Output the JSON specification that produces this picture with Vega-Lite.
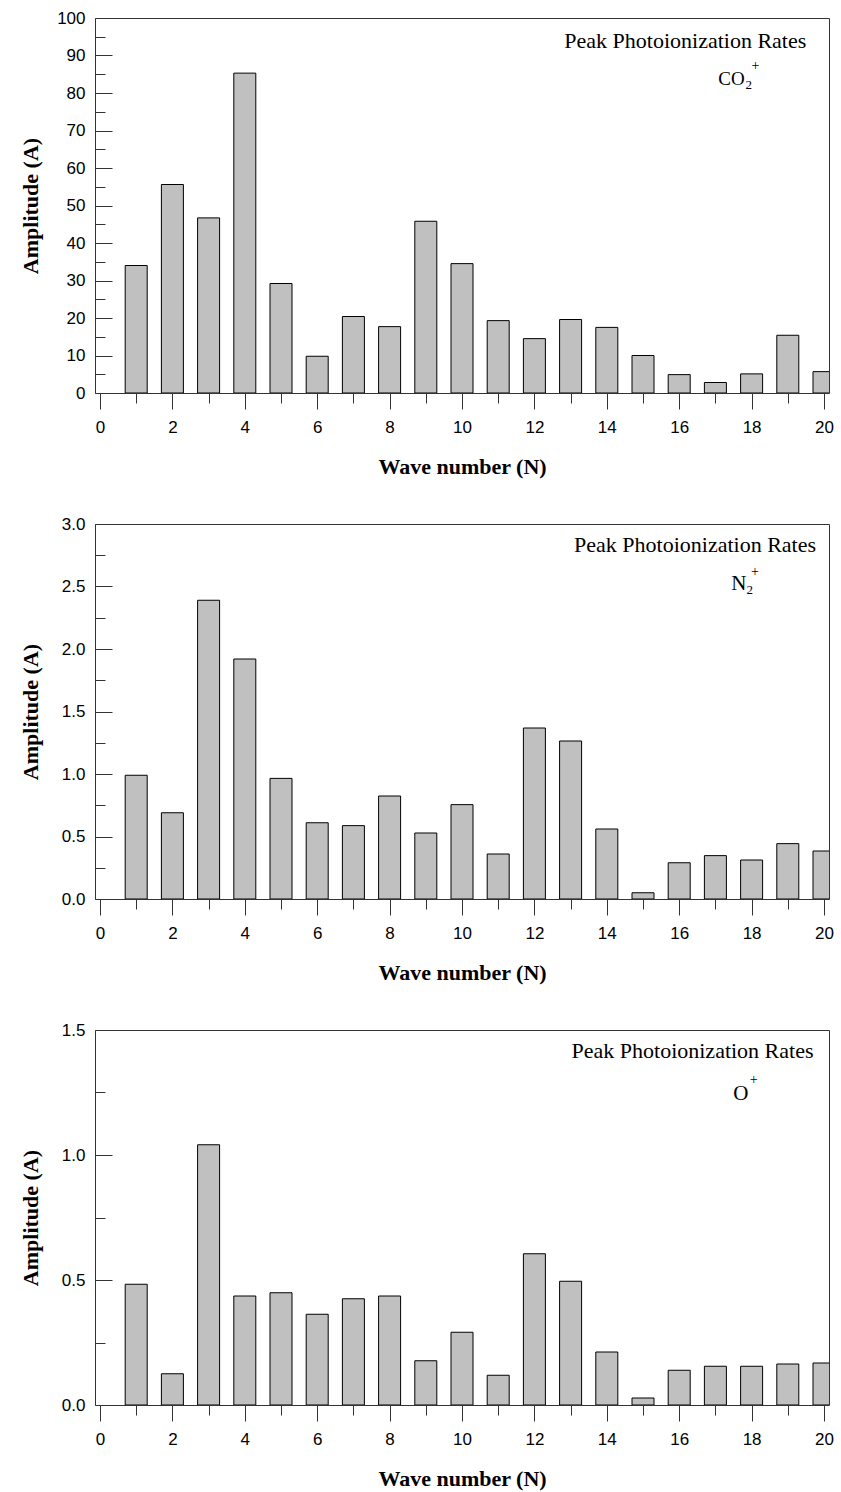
{
  "$schema": "https://vega.github.io/schema/vega-lite/v6.json",
  "background": "white",
  "padding": {"left": 18, "top": 8, "right": 5, "bottom": 5},
  "bounds": "flush",
  "spacing": 131,
  "config": {
    "view": {"stroke": "#333", "strokeWidth": 1},
    "axis": {
      "grid": false,
      "domain": false,
      "tickColor": "#333",
      "tickWidth": 1,
      "labelFont": "Liberation Sans",
      "labelFontSize": 17,
      "labelColor": "#000",
      "labelFlush": false,
      "labelOverlap": false,
      "titleFont": "Liberation Serif",
      "titleFontSize": 22,
      "titleFontWeight": "bold",
      "titleColor": "#000"
    },
    "text": {"font": "Liberation Serif", "color": "#000"}
  },
  "datasets": {
    "co2": [
      {"N": 1, "A": 34.0}, {"N": 2, "A": 55.6}, {"N": 3, "A": 46.7}, {"N": 4, "A": 85.3},
      {"N": 5, "A": 29.2}, {"N": 6, "A": 9.8}, {"N": 7, "A": 20.4}, {"N": 8, "A": 17.7},
      {"N": 9, "A": 45.8}, {"N": 10, "A": 34.5}, {"N": 11, "A": 19.3}, {"N": 12, "A": 14.5},
      {"N": 13, "A": 19.6}, {"N": 14, "A": 17.5}, {"N": 15, "A": 10.0}, {"N": 16, "A": 4.9},
      {"N": 17, "A": 2.8}, {"N": 18, "A": 5.1}, {"N": 19, "A": 15.4}, {"N": 20, "A": 5.7}
    ],
    "n2": [
      {"N": 1, "A": 0.99}, {"N": 2, "A": 0.69}, {"N": 3, "A": 2.39}, {"N": 4, "A": 1.92},
      {"N": 5, "A": 0.965}, {"N": 6, "A": 0.61}, {"N": 7, "A": 0.587}, {"N": 8, "A": 0.824},
      {"N": 9, "A": 0.528}, {"N": 10, "A": 0.755}, {"N": 11, "A": 0.36}, {"N": 12, "A": 1.368},
      {"N": 13, "A": 1.264}, {"N": 14, "A": 0.56}, {"N": 15, "A": 0.05}, {"N": 16, "A": 0.29},
      {"N": 17, "A": 0.347}, {"N": 18, "A": 0.312}, {"N": 19, "A": 0.443}, {"N": 20, "A": 0.384}
    ],
    "o": [
      {"N": 1, "A": 0.483}, {"N": 2, "A": 0.125}, {"N": 3, "A": 1.041}, {"N": 4, "A": 0.436},
      {"N": 5, "A": 0.449}, {"N": 6, "A": 0.363}, {"N": 7, "A": 0.425}, {"N": 8, "A": 0.436},
      {"N": 9, "A": 0.177}, {"N": 10, "A": 0.291}, {"N": 11, "A": 0.119}, {"N": 12, "A": 0.605},
      {"N": 13, "A": 0.495}, {"N": 14, "A": 0.212}, {"N": 15, "A": 0.028}, {"N": 16, "A": 0.139},
      {"N": 17, "A": 0.155}, {"N": 18, "A": 0.155}, {"N": 19, "A": 0.164}, {"N": 20, "A": 0.168}
    ],
    "co2_text": [
      {"role": "title", "x": 19.51, "y": 92.0, "label": "Peak Photoionization Rates"},
      {"role": "main", "x": 17.08, "y": 82.05, "label": "CO"},
      {"role": "sub", "x": 17.83, "y": 81.0, "label": "2"},
      {"role": "sup", "x": 18.0, "y": 87.2, "label": "+"}
    ],
    "n2_text": [
      {"role": "title", "x": 19.78, "y": 2.774, "label": "Peak Photoionization Rates"},
      {"role": "main", "x": 17.44, "y": 2.475, "label": "N"},
      {"role": "sub", "x": 17.86, "y": 2.44, "label": "2"},
      {"role": "sup", "x": 17.98, "y": 2.62, "label": "+"}
    ],
    "o_text": [
      {"role": "title", "x": 19.71, "y": 1.389, "label": "Peak Photoionization Rates"},
      {"role": "main", "x": 17.49, "y": 1.22, "label": "O"},
      {"role": "sup", "x": 17.95, "y": 1.3, "label": "+"}
    ]
  },
  "vconcat": [
    {
      "width": 734,
      "height": 375,
      "resolve": {"axis": {"x": "independent", "y": "independent"}},
      "layer": [
        {
          "data": {"name": "co2"},
          "mark": {"type": "bar", "size": 22, "fill": "#c0c0c0", "stroke": "#000", "strokeWidth": 1, "clip": true},
          "encoding": {
            "x": {"field": "N", "type": "quantitative", "scale": {"domain": [0, 20], "nice": false},
              "axis": {"orient": "bottom", "values": [0, 2, 4, 6, 8, 10, 12, 14, 16, 18, 20], "tickSize": 16, "labelPadding": 10,
                "title": "Wave number (N)", "titleY": 80, "titleBaseline": "alphabetic"}},
            "y": {"field": "A", "type": "quantitative", "scale": {"domain": [0, 100], "nice": false},
              "axis": {"orient": "left", "values": [0, 10, 20, 30, 40, 50, 60, 70, 80, 90, 100], "tickSize": -17, "labelPadding": 27,
                "title": "Amplitude (A)", "titleX": -53, "titleY": 187.5}}
          }
        },
        {
          "data": {"name": "co2_text"},
          "transform": [{"filter": "datum.role === 'title'"}],
          "mark": {"type": "text", "align": "right", "baseline": "alphabetic", "fontSize": 22},
          "encoding": {
            "x": {"field": "x", "type": "quantitative", "scale": {"domain": [0, 20], "nice": false},
              "axis": {"orient": "bottom", "values": [1, 3, 5, 7, 9, 11, 13, 15, 17, 19], "tickSize": 10, "labels": false, "title": null}},
            "y": {"field": "y", "type": "quantitative", "scale": {"domain": [0, 100], "nice": false},
              "axis": {"orient": "left", "values": [5, 15, 25, 35, 45, 55, 65, 75, 85, 95], "tickSize": -10, "labels": false, "title": null}},
            "text": {"field": "label"}
          }
        },
        {
          "data": {"name": "co2_text"},
          "transform": [{"filter": "datum.role === 'main'"}],
          "mark": {"type": "text", "align": "left", "baseline": "alphabetic", "fontSize": 19},
          "encoding": {
            "x": {"field": "x", "type": "quantitative", "scale": {"domain": [0, 20], "nice": false}, "axis": null},
            "y": {"field": "y", "type": "quantitative", "scale": {"domain": [0, 100], "nice": false}, "axis": null},
            "text": {"field": "label"}
          }
        },
        {
          "data": {"name": "co2_text"},
          "transform": [{"filter": "datum.role === 'sub'"}],
          "mark": {"type": "text", "align": "left", "baseline": "alphabetic", "fontSize": 13},
          "encoding": {
            "x": {"field": "x", "type": "quantitative", "scale": {"domain": [0, 20], "nice": false}, "axis": null},
            "y": {"field": "y", "type": "quantitative", "scale": {"domain": [0, 100], "nice": false}, "axis": null},
            "text": {"field": "label"}
          }
        },
        {
          "data": {"name": "co2_text"},
          "transform": [{"filter": "datum.role === 'sup'"}],
          "mark": {"type": "text", "align": "left", "baseline": "middle", "fontSize": 14},
          "encoding": {
            "x": {"field": "x", "type": "quantitative", "scale": {"domain": [0, 20], "nice": false}, "axis": null},
            "y": {"field": "y", "type": "quantitative", "scale": {"domain": [0, 100], "nice": false}, "axis": null},
            "text": {"field": "label"}
          }
        }
      ]
    },
    {
      "width": 734,
      "height": 375,
      "resolve": {"axis": {"x": "independent", "y": "independent"}},
      "layer": [
        {
          "data": {"name": "n2"},
          "mark": {"type": "bar", "size": 22, "fill": "#c0c0c0", "stroke": "#000", "strokeWidth": 1, "clip": true},
          "encoding": {
            "x": {"field": "N", "type": "quantitative", "scale": {"domain": [0, 20], "nice": false},
              "axis": {"orient": "bottom", "values": [0, 2, 4, 6, 8, 10, 12, 14, 16, 18, 20], "tickSize": 16, "labelPadding": 10,
                "title": "Wave number (N)", "titleY": 80, "titleBaseline": "alphabetic"}},
            "y": {"field": "A", "type": "quantitative", "scale": {"domain": [0, 3], "nice": false},
              "axis": {"orient": "left", "values": [0, 0.5, 1, 1.5, 2, 2.5, 3], "format": ".1f", "tickSize": -17, "labelPadding": 27,
                "title": "Amplitude (A)", "titleX": -53, "titleY": 187.5}}
          }
        },
        {
          "data": {"name": "n2_text"},
          "transform": [{"filter": "datum.role === 'title'"}],
          "mark": {"type": "text", "align": "right", "baseline": "alphabetic", "fontSize": 22},
          "encoding": {
            "x": {"field": "x", "type": "quantitative", "scale": {"domain": [0, 20], "nice": false},
              "axis": {"orient": "bottom", "values": [1, 3, 5, 7, 9, 11, 13, 15, 17, 19], "tickSize": 10, "labels": false, "title": null}},
            "y": {"field": "y", "type": "quantitative", "scale": {"domain": [0, 3], "nice": false},
              "axis": {"orient": "left", "values": [0.25, 0.75, 1.25, 1.75, 2.25, 2.75], "tickSize": -10, "labels": false, "title": null}},
            "text": {"field": "label"}
          }
        },
        {
          "data": {"name": "n2_text"},
          "transform": [{"filter": "datum.role === 'main'"}],
          "mark": {"type": "text", "align": "left", "baseline": "alphabetic", "fontSize": 21},
          "encoding": {
            "x": {"field": "x", "type": "quantitative", "scale": {"domain": [0, 20], "nice": false}, "axis": null},
            "y": {"field": "y", "type": "quantitative", "scale": {"domain": [0, 3], "nice": false}, "axis": null},
            "text": {"field": "label"}
          }
        },
        {
          "data": {"name": "n2_text"},
          "transform": [{"filter": "datum.role === 'sub'"}],
          "mark": {"type": "text", "align": "left", "baseline": "alphabetic", "fontSize": 13},
          "encoding": {
            "x": {"field": "x", "type": "quantitative", "scale": {"domain": [0, 20], "nice": false}, "axis": null},
            "y": {"field": "y", "type": "quantitative", "scale": {"domain": [0, 3], "nice": false}, "axis": null},
            "text": {"field": "label"}
          }
        },
        {
          "data": {"name": "n2_text"},
          "transform": [{"filter": "datum.role === 'sup'"}],
          "mark": {"type": "text", "align": "left", "baseline": "middle", "fontSize": 14},
          "encoding": {
            "x": {"field": "x", "type": "quantitative", "scale": {"domain": [0, 20], "nice": false}, "axis": null},
            "y": {"field": "y", "type": "quantitative", "scale": {"domain": [0, 3], "nice": false}, "axis": null},
            "text": {"field": "label"}
          }
        }
      ]
    },
    {
      "width": 734,
      "height": 375,
      "resolve": {"axis": {"x": "independent", "y": "independent"}},
      "layer": [
        {
          "data": {"name": "o"},
          "mark": {"type": "bar", "size": 22, "fill": "#c0c0c0", "stroke": "#000", "strokeWidth": 1, "clip": true},
          "encoding": {
            "x": {"field": "N", "type": "quantitative", "scale": {"domain": [0, 20], "nice": false},
              "axis": {"orient": "bottom", "values": [0, 2, 4, 6, 8, 10, 12, 14, 16, 18, 20], "tickSize": 16, "labelPadding": 10,
                "title": "Wave number (N)", "titleY": 80, "titleBaseline": "alphabetic"}},
            "y": {"field": "A", "type": "quantitative", "scale": {"domain": [0, 1.5], "nice": false},
              "axis": {"orient": "left", "values": [0, 0.5, 1, 1.5], "format": ".1f", "tickSize": -17, "labelPadding": 27,
                "title": "Amplitude (A)", "titleX": -53, "titleY": 187.5}}
          }
        },
        {
          "data": {"name": "o_text"},
          "transform": [{"filter": "datum.role === 'title'"}],
          "mark": {"type": "text", "align": "right", "baseline": "alphabetic", "fontSize": 22},
          "encoding": {
            "x": {"field": "x", "type": "quantitative", "scale": {"domain": [0, 20], "nice": false},
              "axis": {"orient": "bottom", "values": [1, 3, 5, 7, 9, 11, 13, 15, 17, 19], "tickSize": 10, "labels": false, "title": null}},
            "y": {"field": "y", "type": "quantitative", "scale": {"domain": [0, 1.5], "nice": false},
              "axis": {"orient": "left", "values": [0.25, 0.75, 1.25], "tickSize": -10, "labels": false, "title": null}},
            "text": {"field": "label"}
          }
        },
        {
          "data": {"name": "o_text"},
          "transform": [{"filter": "datum.role === 'main'"}],
          "mark": {"type": "text", "align": "left", "baseline": "alphabetic", "fontSize": 21},
          "encoding": {
            "x": {"field": "x", "type": "quantitative", "scale": {"domain": [0, 20], "nice": false}, "axis": null},
            "y": {"field": "y", "type": "quantitative", "scale": {"domain": [0, 1.5], "nice": false}, "axis": null},
            "text": {"field": "label"}
          }
        },
        {
          "data": {"name": "o_text"},
          "transform": [{"filter": "datum.role === 'sup'"}],
          "mark": {"type": "text", "align": "left", "baseline": "middle", "fontSize": 14},
          "encoding": {
            "x": {"field": "x", "type": "quantitative", "scale": {"domain": [0, 20], "nice": false}, "axis": null},
            "y": {"field": "y", "type": "quantitative", "scale": {"domain": [0, 1.5], "nice": false}, "axis": null},
            "text": {"field": "label"}
          }
        }
      ]
    }
  ]
}
